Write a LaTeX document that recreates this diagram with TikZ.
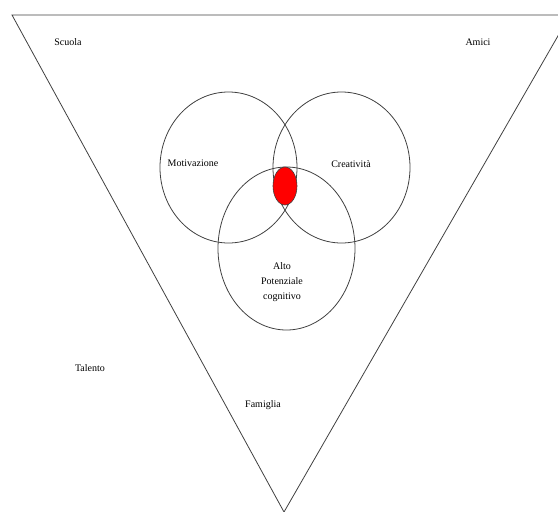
\documentclass[tikz,border=0pt]{standalone}
\usepackage{fontspec}
\setmainfont{Liberation Serif}
\usepackage{tikz}

\tikzset{
  lbl/.style={font=\fontsize{10}{15}\selectfont, inner sep=1pt, align=center},
  ring/.style={draw=black!75, line width=0.8pt},
}

\begin{document}
\begin{tikzpicture}[x=1pt, y=-1pt, line width=0.8pt]
  \useasboundingbox (0,0) rectangle (558,512);
  \clip (0,0) rectangle (558,512);

  \coordinate (tl) at (12.0, 15.0);
  \coordinate (tr) at (570.0, 15.0);
  \coordinate (ap) at (284.0, 512.0);

  \draw[black!75] (tl) -- (tr) -- (ap) -- cycle;

  % the three rings and their overlap
  \draw[ring] (228.5, 167.5) ellipse [x radius=68.5, y radius=75.5];
  \draw[ring] (341.5, 167.5) ellipse [x radius=68.5, y radius=75.5];
  \draw[ring] (286.5, 248.5) ellipse [x radius=68.5, y radius=81.5];
  \fill[red, draw=black!75, line width=0.6pt] (285.0, 186.0) ellipse [x radius=12, y radius=19];

  \node[lbl] (scuola) at (68.0, 42.0) {Scuola};
  \node[lbl] (amici) at (478.0, 42.0) {Amici};
  \node[lbl] (motiv) at (193.0, 163.0) {Motivazione};
  \node[lbl] (creat) at (351.0, 164.0) {Creatività};
  \node[lbl] (alto) at (282.0, 282.0) {Alto\\Potenziale\\cognitivo};
  \node[lbl] (talento) at (90.0, 368.0) {Talento};
  \node[lbl] (famiglia) at (263.0, 405.0) {Famiglia};
\end{tikzpicture}
\end{document}
